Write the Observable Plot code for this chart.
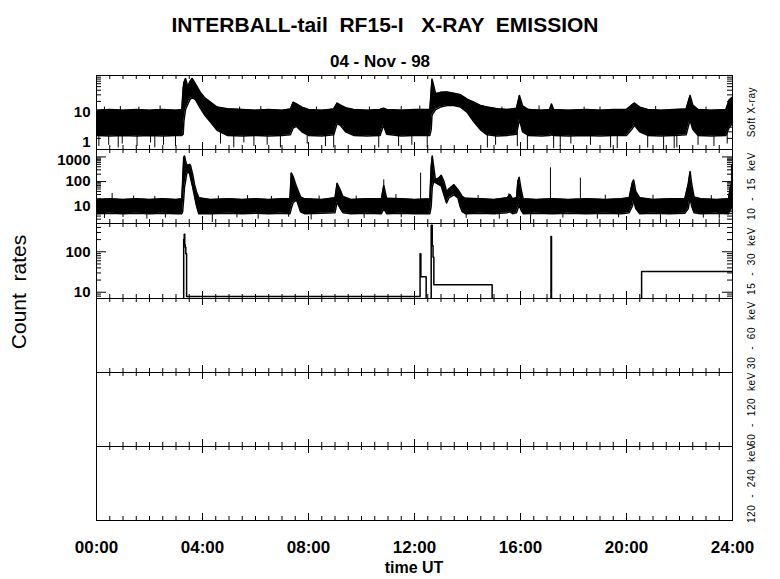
<!DOCTYPE html>
<html><head><meta charset="utf-8">
<script src="https://cdn.jsdelivr.net/npm/d3@7"></script>
<script src="https://cdn.jsdelivr.net/npm/@observablehq/plot@0.6"></script>
<style>
body{margin:0;background:#fff;}
#root{position:relative;width:780px;height:579px;overflow:hidden;background:#fff;font-family:"Liberation Sans",Arial,sans-serif;color:#000;}
.txt{position:absolute;white-space:pre;line-height:1;}
.rlab{position:absolute;font-size:10px;line-height:1;white-space:pre;letter-spacing:0.6px;transform:translate(-50%,-50%) rotate(-90deg);}
</style></head>
<body><div id="root"></div>
<script>
// ---------- data (hours UT, count rates) ----------
const xMajor = [0, 4, 8, 12, 16, 20, 24];
const xLabels = ["00:00", "04:00", "08:00", "12:00", "16:00", "20:00", "24:00"];
const panelLabels = ["Soft X-ray", "10  -  15  keV", "15  -  30  keV", "30  -  60  keV", "60  -  120  keV", "120  -  240  keV"];

// Panel 1: Soft X-ray envelope (low / high of the noisy trace)
const p1T  = [0,0.5,1.0,1.5,2.0,2.5,3.0,3.22,3.27,3.30,3.36,3.45,3.52,3.61,3.74,3.92,4.11,4.30,4.55,4.93,5.5,6.0,6.5,7.0,7.32,7.42,7.55,7.75,8.0,8.5,8.95,9.08,9.2,9.4,9.7,10.2,10.7,10.83,10.95,11.5,12.0,12.58,12.63,12.66,12.72,12.8,12.98,13.23,13.48,13.74,13.99,14.24,14.49,14.74,15.12,15.5,15.85,15.96,16.08,16.3,16.8,17.1,17.17,17.25,17.8,18.5,19.0,19.5,20.0,20.2,20.3,20.5,20.8,21.3,21.8,22.25,22.4,22.5,22.7,23.2,23.75,23.88,24];
const p1Lo = [2.4,2.3,2.4,2.3,2.4,2.3,2.4,2.4,2.6,6,12,17,22,26,22,13,8,5.5,3.3,2.4,2.3,2.4,2.3,2.4,2.5,3.8,4.2,3.0,2.4,2.3,2.5,5,4.5,3.0,2.4,2.3,2.4,4.5,2.6,2.3,2.4,2.4,3.5,8.4,10,12,14,15.5,15.5,14,10,5.6,3.4,2.5,2.3,2.4,2.6,6.5,3.0,2.4,2.3,2.4,2.5,2.4,2.3,2.4,2.3,2.4,2.4,3.5,4.5,3.0,2.4,2.3,2.4,2.5,6.3,3.5,2.4,2.3,2.4,4,5];
const p1Hi = [11.5,12,11.5,12,11.5,12,11.5,12,45,65,83,48,68,83,58,35,24,19,14,12.6,12,11.5,12,11.5,12.5,19,17,14,12,11.5,12.5,18,16,13.5,12,11.5,12,13,12,11.5,12,12,40,80,55,32,35,36,33,30,23,19,15.5,14,12.6,12,13,29,15,12,11.5,12,17,12,11.5,12,11.5,12,12,16,18,14,12,11.5,12,12.5,29,16,12,11.5,12,22,26];
const p1UpT = [0.3,0.9,1.6,2.4,5.4,6.2,8.3,10.3,11.5,12.2,15.3,16.7,18.4,19.0,21.1,23.0];
const p1UpV = [14,14.5,14,15,14,14.5,14,14,14.5,15,14,15,14,14,14.5,14];
const p1DnT = [0.09,0.46,0.82,0.97,1.53,2.04,2.2,2.53,2.98,4.68,5.18,5.56,5.94,6.44,6.94,7.95,8.64,8.95,10.65,11.4,11.9,12.48,14.75,15.06,15.88,16.26,17.25,17.5,17.9,18.64,19.4,19.65,20.8,21.4,21.8,21.9,22.7,23.3,23.8];
const p1DnV = [1.2,1.3,1.1,1.4,1.2,1.5,1.1,1.3,1.2,1.4,1.1,1.5,1.2,1.3,1.1,1.4,1.2,1.1,1.1,1.2,1.3,1.1,1.1,1.3,1.2,1.0,1.05,1.2,1.4,1.3,1.1,1.05,1.1,1.0,1.05,1.1,1.3,1.2,1.4];

// Panel 2: 10-15 keV envelope
const p2T  = [0,0.5,1.0,1.5,2.0,2.5,3.0,3.22,3.25,3.29,3.32,3.36,3.40,3.45,3.52,3.55,3.63,3.70,3.77,3.86,4.3,5.0,5.5,6.0,6.5,7.0,7.3,7.35,7.42,7.55,7.7,7.85,8.5,9.0,9.08,9.2,9.3,9.6,10.2,10.75,10.84,10.95,11.5,12.0,12.58,12.63,12.67,12.73,12.79,12.92,13.01,13.11,13.21,13.30,13.49,13.64,13.72,13.80,13.92,14.5,15.0,15.5,15.6,15.7,15.85,15.9,15.95,16.02,16.1,16.6,17.2,17.8,18.5,19.2,19.8,20.1,20.22,20.27,20.35,20.5,21.0,21.6,22.2,22.33,22.4,22.46,22.55,22.8,23.4,23.85,23.92,24];
const p2Lo = [5,5.2,5,5.2,5,5.2,5,5,6,20,60,103,200,260,200,140,60,25,11,5,5,5.2,5,5.2,5,5.2,5,8,14,18,6,5,5.2,5.5,15,8,5.5,5,5.2,5,8,5,5.2,5,5,10,60,103,90,75,66,29,13.5,22,29,22,10,6,5,5.2,5,5.5,6,5,5.5,8,11,7,5,5.2,5,5.2,5,5.2,5,5.5,10,18,8,5,5.2,5,5.2,8,24,10,5.5,5,5.2,5,8,12];
const p2Hi = [19,20,19,20,19,20,19,20,100,900,1100,700,500,450,500,440,195,75,40,22,19,20,19,20,19,20,20,225,160,61,24,20,19,22,85,45,25,19,20,20,70,21,20,19,20,400,1100,360,120,140,180,103,40,50,75,47,35,25,21,20,19,22,30,20,22,100,150,50,20,19,20,19,20,19,20,22,90,117,40,22,19,20,20,80,255,80,24,20,19,20,60,100];
const p2UpT = [0.59,1.4,2.2,4.6,5.7,6.6,8.4,9.8,10.84,11.3,12.23,14.4,15.56,17.13,18.26,19.2,21.0,23.2,23.96];
const p2UpV = [33,26,25,26,27,25,26,26,117,30,220,27,32,360,138,28,28,27,480];
const p2DnT = [0.3,1.0,1.9,2.6,4.37,5.3,6.1,7.25,8.1,10.1,11.5,13.95,15.2,16.38,17.6,18.9,19.7,21.28,22.9,23.5];
const p2DnV = [3.2,3.5,3,3.3,2.2,3.4,3,3.6,2.8,3.2,3.4,3.2,3,2,3.3,3,3.4,2,3.3,3];

// Panel 3: 15-30 keV (stepped count rate; values under 7 sit on the axis)
const p3T = [0,3.29,3.31,3.33,3.35,3.37,3.40,12.21,12.24,12.44,12.63,12.67,12.70,12.73,14.93,17.15,17.17,20.57,24];
const p3V = [5,200,270,150,130,90,7.9,90,24,5,450,140,73,15.3,5,240,5,32.7,32.7];

// y-axis tick labels
const p2Labels = [10, 100, 1000];
const p3Labels = [10, 100];
const yDomains = [[1, 100], [2, 2000], [7, 500]];

// ---------- helpers ----------
const zip = (ts, a, b) => ts.map((t, i) => ({t, lo: a[i], hi: b[i]}));
const pts = (ts, vs) => ts.map((t, i) => ({t, v: vs[i]}));
function logTicks([lo, hi]) {
  const out = [];
  for (let d = 1; d <= 10000; d *= 10)
    for (let m = 1; m <= 9; m++) { const v = m * d; if (v >= lo - 1e-9 && v <= hi + 1e-9) out.push({v, major: m === 1}); }
  return out;
}
const xMinor = d3.range(0, 24.001, 0.5).filter(t => t % 4 !== 0);

const root = document.getElementById("root");
const tops = [75, 149, 223, 298, 372, 446, 520];
const W = 636;
const FONT = "Liberation Sans, Arial, sans-serif";

function frameTicks(h) {
  return [
    Plot.tickX(xMinor, {x: d => d, insetBottom: h - 4, stroke: "black"}),
    Plot.tickX(xMinor, {x: d => d, insetTop: h - 4, stroke: "black"}),
    Plot.tickX(xMajor, {x: d => d, insetBottom: h - 7, stroke: "black"}),
    Plot.tickX(xMajor, {x: d => d, insetTop: h - 7, stroke: "black"}),
    Plot.frame({stroke: "black"})
  ];
}
function yTicks(domain) {
  const t = logTicks(domain);
  const maj = t.filter(d => d.major), min = t.filter(d => !d.major);
  return [
    Plot.tickY(min, {y: "v", insetRight: W - 5, stroke: "black"}),
    Plot.tickY(maj, {y: "v", insetRight: W - 10, stroke: "black"}),
    Plot.tickY(min, {y: "v", insetLeft: W - 5, stroke: "black"}),
    Plot.tickY(maj, {y: "v", insetLeft: W - 10, stroke: "black"})
  ];
}
function yLabels(vals, dy = 0) {
  return Plot.axisY(vals, {anchor: "left", tickSize: 0, tickPadding: 6, tickFormat: d => String(d), label: null,
    fontSize: 15, fontWeight: "bold", fontFamily: FONT, dy});
}

function makePanel(i, domain, marks, mb = 1) {
  const h = tops[i + 1] - tops[i];
  const opts = {
    width: 780, height: h + 1 + mb,
    marginLeft: 96, marginRight: 48, marginTop: 1, marginBottom: mb,
    x: i === 5 ? {domain: [0, 24], label: null} : {domain: [0, 24], axis: null, label: null},
    style: {fontFamily: FONT, color: "black", background: "transparent", overflow: "visible"},
    marks: [...marks, ...frameTicks(h)]
  };
  if (domain) opts.y = {type: "log", domain, axis: null, label: null};
  const svg = Plot.plot(opts);
  svg.style.position = "absolute";
  svg.style.left = "0px";
  svg.style.top = (tops[i] - 1) + "px";
  root.appendChild(svg);
}

// Panel 1
makePanel(0, yDomains[0], [
  Plot.areaY(zip(p1T, p1Lo, p1Hi), {x: "t", y1: "lo", y2: "hi", fill: "black", clip: true}),
  Plot.line(zip(p1T, p1Lo, p1Hi), {x: "t", y: "hi", stroke: "black", clip: true}),
  Plot.line(zip(p1T, p1Lo, p1Hi), {x: "t", y: "lo", stroke: "black", clip: true}),
  Plot.ruleX(pts(p1UpT, p1UpV), {x: "t", y1: 5, y2: "v", stroke: "black", clip: true}),
  Plot.ruleX(pts(p1DnT, p1DnV), {x: "t", y1: "v", y2: 5, stroke: "black", clip: true}),
  ...yTicks(yDomains[0]),
  yLabels([10]),
  yLabels([1], -7)
]);
// Panel 2
makePanel(1, yDomains[1], [
  Plot.areaY(zip(p2T, p2Lo, p2Hi), {x: "t", y1: "lo", y2: "hi", fill: "black", clip: true}),
  Plot.line(zip(p2T, p2Lo, p2Hi), {x: "t", y: "hi", stroke: "black", clip: true}),
  Plot.line(zip(p2T, p2Lo, p2Hi), {x: "t", y: "lo", stroke: "black", clip: true}),
  Plot.ruleX(pts(p2UpT, p2UpV), {x: "t", y1: 10, y2: "v", stroke: "black", clip: true}),
  Plot.ruleX(pts(p2DnT, p2DnV), {x: "t", y1: "v", y2: 10, stroke: "black", clip: true}),
  ...yTicks(yDomains[1]),
  yLabels([10, 100]),
  yLabels([1000], 3)
]);
// Panel 3
makePanel(2, yDomains[2], [
  Plot.line(pts(p3T, p3V), {x: "t", y: "v", curve: "step-after", stroke: "black", clip: true}),
  ...yTicks(yDomains[2]),
  yLabels(p3Labels)
]);
// Panels 4-6 (no counts)
makePanel(3, null, []);
makePanel(4, null, []);
makePanel(5, null, [
  Plot.axisX(xMajor, {anchor: "bottom", tickSize: 0, tickPadding: 20, label: null, tickFormat: d => xLabels[xMajor.indexOf(d)],
    fontSize: 17, fontWeight: "bold", fontFamily: FONT})
], 50);

// ---------- texts ----------
function addText(str, css) {
  const d = document.createElement("div");
  d.className = "txt";
  d.textContent = str;
  Object.assign(d.style, css);
  root.appendChild(d);
  return d;
}
addText("INTERBALL-tail  RF15-I   X-RAY  EMISSION", {left: "385px", top: "14px", fontSize: "21px", fontWeight: "bold", transform: "translateX(-50%)"});
addText("04 - Nov - 98", {left: "380px", top: "53px", fontSize: "17px", fontWeight: "bold", transform: "translateX(-50%)"});
addText("time UT", {left: "414px", top: "560px", fontSize: "16px", fontWeight: "bold", transform: "translateX(-50%)"});
addText("Count  rates", {left: "18px", top: "292px", fontSize: "21px", transform: "translate(-50%,-50%) rotate(-90deg)"});
panelLabels.forEach((s, i) => {
  const d = document.createElement("div");
  d.className = "rlab";
  d.textContent = s;
  d.style.left = "752px";
  d.style.top = ((tops[i] + tops[i + 1]) / 2) + "px";
  root.appendChild(d);
});
</script>
</body></html>
